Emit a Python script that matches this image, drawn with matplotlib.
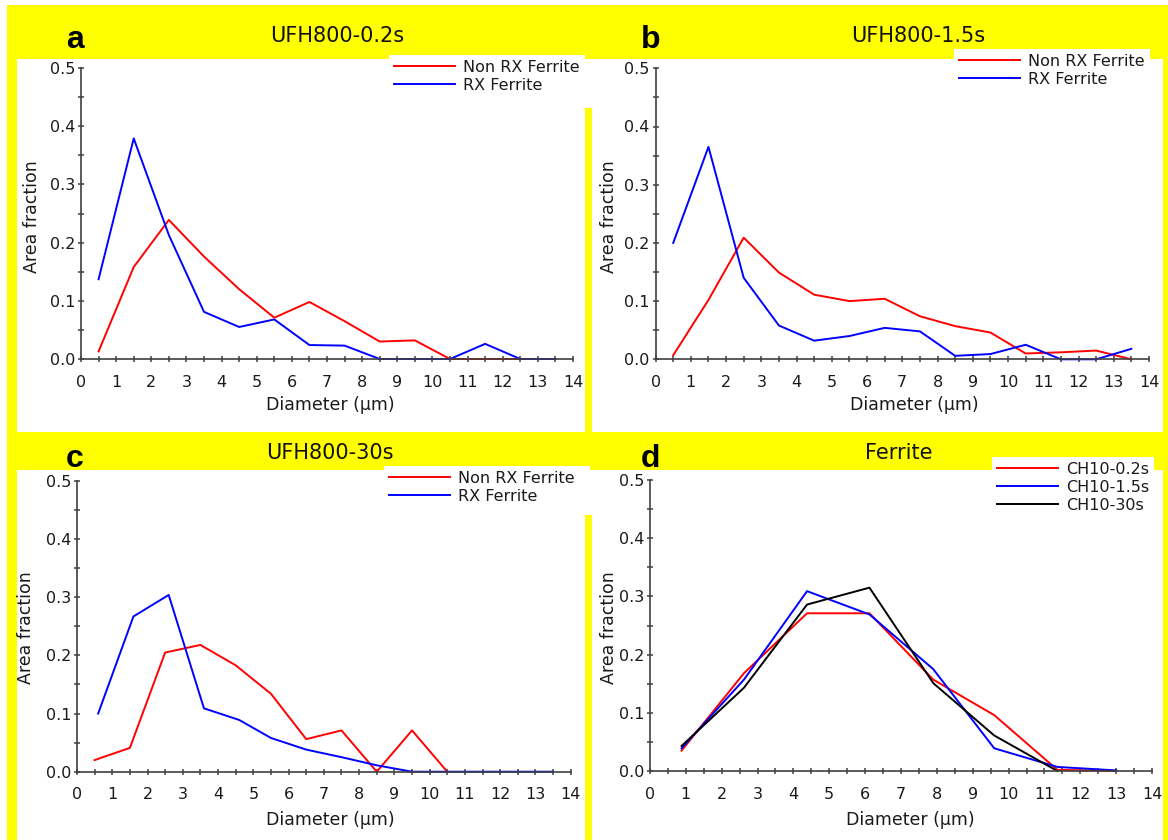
import matplotlib
matplotlib.use("Agg")
import matplotlib.pyplot as plt
from matplotlib.patches import Rectangle
from matplotlib.ticker import MultipleLocator

W, H = 1168, 840

# diameter bins (um)
bins = [0.5, 1.5, 2.5, 3.5, 4.5, 5.5, 6.5, 7.5, 8.5, 9.5, 10.5, 11.5, 12.5, 13.5]

# a: UFH800-0.2s
a_non_rx = [0.013, 0.158, 0.239, 0.176, 0.120, 0.071, 0.098, 0.065, 0.030, 0.032, 0.0, 0.0, 0.0]
a_rx = [0.137, 0.379, 0.213, 0.081, 0.055, 0.068, 0.024, 0.023, 0.0, 0.0, 0.0, 0.026, 0.0, 0.0]

# b: UFH800-1.5s
b_non_rx = [0.007, 0.102, 0.209, 0.149, 0.111, 0.100, 0.104, 0.074, 0.057, 0.046, 0.010, 0.012, 0.015, 0.0]
b_rx = [0.200, 0.365, 0.140, 0.058, 0.032, 0.040, 0.054, 0.048, 0.006, 0.009, 0.025, 0.0, 0.0, 0.018]

# c: UFH800-30s
c_non_rx = [0.020, 0.041, 0.205, 0.218, 0.183, 0.134, 0.056, 0.071, 0.0, 0.071, 0.0]
c_rx_x = [0.6, 1.6, 2.6, 3.6, 4.6, 5.5, 6.5, 7.5, 8.5, 9.5, 10.5, 11.5, 12.5, 13.5]
c_rx = [0.100, 0.267, 0.304, 0.109, 0.089, 0.058, 0.038, 0.025, 0.011, 0.0, 0.0, 0.0, 0.0, 0.0]

# d: Ferrite
d_x = [0.88, 2.62, 4.38, 6.12, 7.9, 9.6, 11.36, 13.0]
d_02 = [0.035, 0.168, 0.271, 0.271, 0.157, 0.096, 0.002, 0.0]
d_15 = [0.039, 0.157, 0.309, 0.269, 0.175, 0.039, 0.007, 0.001]
d_30 = [0.043, 0.143, 0.286, 0.315, 0.151, 0.061, 0.0]

AX = "#404040"
YELLOW = "#ffff00"


def px_rect(fig, x0, y0, x1, y1, color="white"):
    fig.add_artist(Rectangle((x0 / W, 1 - y1 / H), (x1 - x0) / W, (y1 - y0) / H,
                             transform=fig.transFigure, facecolor=color,
                             edgecolor="none", zorder=-5))


def ftext(fig, x, y, s, **kw):
    fig.text(x / W, 1 - y / H, s, **kw)


def make_axes(fig, x0, x14, y0, y5):
    ax = fig.add_axes([x0 / W, 1 - y0 / H, (x14 - x0) / W, (y0 - y5) / H])
    ax.set_facecolor("none")
    ax.set_xlim(0, 14)
    ax.set_ylim(0, 0.5)
    for s in ("top", "right"):
        ax.spines[s].set_visible(False)
    for s in ("left", "bottom"):
        ax.spines[s].set_color(AX)
        ax.spines[s].set_linewidth(1.2)
    ax.xaxis.set_major_locator(MultipleLocator(1))
    ax.xaxis.set_minor_locator(MultipleLocator(0.5))
    ax.yaxis.set_major_locator(MultipleLocator(0.1))
    ax.yaxis.set_minor_locator(MultipleLocator(0.05))
    ax.set_yticklabels([f"{v:.1f}" for v in ax.get_yticks()])
    ax.tick_params(axis="x", which="both", direction="inout", length=4.5, width=1.1,
                   color=AX, pad=9, labelsize=11.5, labelcolor="#1a1a1a")
    ax.tick_params(axis="y", which="both", direction="inout", length=4.5, width=1.1,
                   color=AX, pad=2, labelsize=11.5, labelcolor="#1a1a1a")
    return ax


def legend(ax, fig, x, y):
    leg = ax.legend(loc="upper left", bbox_to_anchor=(x / W, 1 - y / H),
                    bbox_transform=fig.transFigure, fontsize=11.5, handlelength=3.85,
                    handletextpad=0.5, labelspacing=0.18, borderpad=0.3,
                    borderaxespad=0, frameon=True, fancybox=False, framealpha=1)
    leg.get_frame().set_facecolor("white")
    leg.get_frame().set_edgecolor("none")
    for t in leg.get_texts():
        t.set_color("#1a1a1a")


fig = plt.figure(figsize=(W / 100, H / 100), dpi=100)
fig.patch.set_facecolor("white")

# yellow backdrop with white panels
px_rect(fig, 7, 5, W, H, YELLOW)
px_rect(fig, 17, 59, 585, 432)
px_rect(fig, 585, 59, 592, 108)
px_rect(fig, 592, 59, 1163, 432)
px_rect(fig, 17, 470, 585, 840)
px_rect(fig, 585, 470, 592, 515)
px_rect(fig, 592, 470, 1163, 840)
px_rect(fig, 468, 466, 590, 470)

lw = 1.4
title_kw = dict(fontsize=15, ha="center", va="center", color="#111111")
letter_kw = dict(fontsize=23, fontweight="bold", family="Liberation Sans",
                 ha="center", va="baseline", color="black")
ylab_kw = dict(fontsize=12.5, rotation=90, ha="center", va="center", color="#1a1a1a")
xlab_kw = dict(fontsize=12.5, ha="center", va="center", color="#1a1a1a")

# a
ax = make_axes(fig, 81, 573, 359, 68)
ax.plot(bins[:len(a_non_rx)], a_non_rx, color="red", lw=lw, label="Non RX Ferrite", clip_on=False)
ax.plot(bins, a_rx, color="blue", lw=lw, label="RX Ferrite", clip_on=False)
legend(ax, fig, 389, 55)
ftext(fig, 337, 36, "UFH800-0.2s", **title_kw)
ftext(fig, 75, 48, "a", **letter_kw)
ftext(fig, 32, 217, "Area fraction", **ylab_kw)
ftext(fig, 330, 405, "Diameter (µm)", **xlab_kw)

# b
ax = make_axes(fig, 655.6, 1149, 359.3, 68.3)
ax.plot(bins, b_non_rx, color="red", lw=lw, label="Non RX Ferrite", clip_on=False)
ax.plot(bins, b_rx, color="blue", lw=lw, label="RX Ferrite", clip_on=False)
legend(ax, fig, 954, 49)
ftext(fig, 918, 36, "UFH800-1.5s", **title_kw)
ftext(fig, 651, 48, "b", **letter_kw)
ftext(fig, 609, 217, "Area fraction", **ylab_kw)
ftext(fig, 914, 405, "Diameter (µm)", **xlab_kw)

# c
ax = make_axes(fig, 77, 570.7, 771.7, 481)
ax.plot(bins[:len(c_non_rx)], c_non_rx, color="red", lw=lw, label="Non RX Ferrite", clip_on=False)
ax.plot(c_rx_x, c_rx, color="blue", lw=lw, label="RX Ferrite", clip_on=False)
legend(ax, fig, 384, 466)
ftext(fig, 330, 453, "UFH800-30s", **title_kw)
ftext(fig, 75, 467, "c", **letter_kw)
ftext(fig, 26, 628, "Area fraction", **ylab_kw)
ftext(fig, 330, 820, "Diameter (µm)", **xlab_kw)

# d
ax = make_axes(fig, 650, 1152, 771, 480)
ax.plot(d_x, d_02, color="red", lw=lw, label="CH10-0.2s", clip_on=False)
ax.plot(d_x, d_15, color="blue", lw=lw, label="CH10-1.5s", clip_on=False)
ax.plot(d_x[:len(d_30)], d_30, color="black", lw=lw, label="CH10-30s", clip_on=False)
legend(ax, fig, 992, 457)
ftext(fig, 899, 453, "Ferrite", **title_kw)
ftext(fig, 650, 467, "d", **letter_kw)
ftext(fig, 609, 628, "Area fraction", **ylab_kw)
ftext(fig, 910, 820, "Diameter (µm)", **xlab_kw)

fig.savefig("out.png", dpi=100, facecolor=fig.get_facecolor())
